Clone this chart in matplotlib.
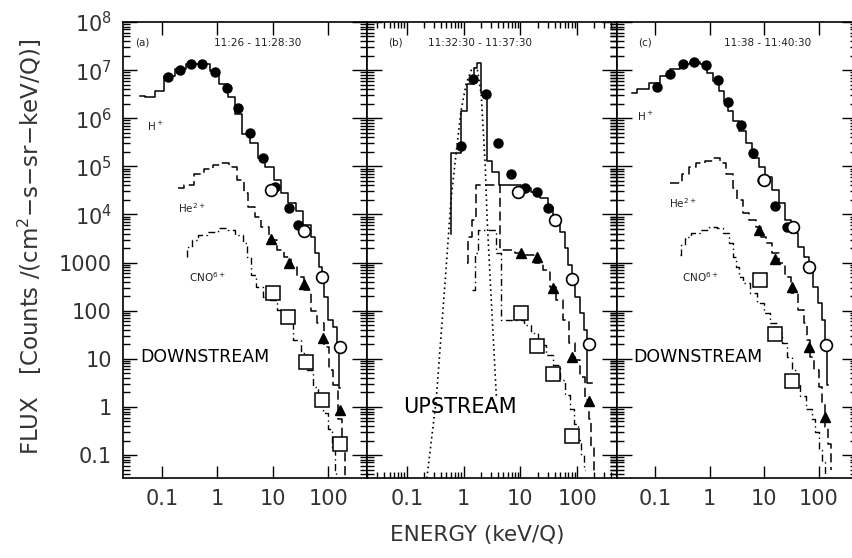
import numpy as np
import matplotlib
matplotlib.use("Agg")
import matplotlib.pyplot as plt
from matplotlib.ticker import LogLocator, NullFormatter

# ---------------- data ----------------
# panel (a) 11:26-11:28:30, downstream
a_H_E = [0.040, 0.060, 0.088, 0.133, 0.21, 0.34, 0.59, 0.88, 1.28, 1.78, 2.37, 3.3, 4.6, 6.1,
         8.5, 12.3, 15.7, 22.6, 29, 42, 54, 63, 72, 81, 90, 108, 134, 150, 164]
a_H_F = [2.9e6, 2.7e6, 3.7e6, 7.6e6, 1.06e7, 1.35e7, 1.35e7, 9.7e6, 5.2e6, 2.7e6, 1.2e6, 4.8e5,
         3.0e5, 1.5e5, 9.5e4, 5.1e4, 2.8e4, 1.7e4, 1.2e4, 6.0e3, 3.4e3, 1.6e3, 810, 440, 195, 65,
         46, 21, 2.5]
a_He_E = [0.20, 0.30, 0.46, 0.69, 0.96, 1.33, 1.93, 2.68, 3.3, 4.0, 5.4, 6.9, 10.4, 13.9, 18.5,
          23.6, 31, 42, 54, 72, 96, 114, 134, 164, 186, 210]
a_He_F = [3.6e4, 4.0e4, 7.0e4, 9.0e4, 1.05e5, 1.2e5, 9.5e4, 5.1e4, 2.8e4, 1.4e4, 8.8e3, 5.4e3,
          2.9e3, 1.8e3, 1.3e3, 810, 500, 270, 100, 56, 18, 5.9, 2.9, 0.55, 0.13, 0.03]
a_CNO_E = [0.28, 0.30, 0.39, 0.52, 0.78, 1.28, 1.78, 2.47, 3.3, 3.7, 4.4, 5.6, 7.5, 10.4, 13.9,
           19.3, 28, 36, 48, 58, 72, 88, 108, 124, 137, 145]
a_CNO_F = [1.3e3, 2.1e3, 2.9e3, 3.7e3, 4.3e3, 5.2e3, 4.7e3, 3.7e3, 2.5e3, 1.3e3, 550, 310, 190,
           170, 105, 56, 25, 13.5, 5.9, 2.6, 1.4, 0.76, 0.34, 0.15, 0.05, 0.03]
a_fill_E = [0.128, 0.21, 0.34, 0.54, 0.92, 1.51, 2.37, 3.9, 6.6, 10.9, 19.3, 29]
a_fill_F = [7.3e6, 1.0e7, 1.35e7, 1.35e7, 9.2e6, 4.3e6, 1.6e6, 5.0e5, 1.5e5, 3.8e4, 1.35e4, 6.0e3]
a_open_E = [9.2, 37, 78, 164]
a_open_F = [3.2e4, 4.5e3, 500, 18]
a_tri_E = [9.2, 19.3, 37, 81, 164]
a_tri_F = [3.1e3, 980, 360, 27, 0.85]
a_sq_E = [10, 18.5, 39, 78, 164]
a_sq_F = [230, 74, 8.7, 1.4, 0.17]

# panel (b) 11:32:30-11:37:30, upstream
b_H_E = [0.60, 0.60, 0.90, 1.15, 1.53, 1.73, 2.04, 2.61, 3.19, 4.2, 10.4, 15.6, 22.5, 30, 37, 49,
         60, 68, 80, 93, 110, 130, 150, 178]
b_H_F = [4e3, 1.9e5, 1.4e6, 5.2e6, 1.1e7, 1.4e7, 3.3e6, 1.3e5, 7.6e4, 4e4, 3.6e4, 2.9e4, 2.2e4,
         1.4e4, 7.6e3, 4.3e3, 2.0e3, 900, 370, 190, 90, 40, 3.2, 3.2]
b_beam_E = [0.226, 0.33, 0.49, 0.60, 0.74, 0.90, 1.11, 1.41, 1.73, 2.04, 2.22, 2.4, 2.6, 3.07, 3.77]
b_beam_F = [0.033, 1.4, 690, 2e4, 1.9e5, 1.4e6, 5.2e6, 1.1e7, 1.1e7, 3.2e6, 5.5e5, 1.05e5, 7.6e3,
            166, 1.66]
b_He_E = [1.15, 1.25, 1.53, 1.8, 4.1, 4.8, 6.3, 9.6, 14.5, 21.5, 29, 37, 49, 65, 80, 102, 125,
          150, 170, 185, 212]
b_He_F = [980, 3.4e3, 7.6e3, 4e4, 4e4, 1.8e3, 1.8e3, 1.6e3, 1.45e3, 1.0e3, 690, 310, 166, 65, 21,
          9.5, 4.1, 1.4, 0.55, 0.15, 0.05]
b_CNO_E = [1.41, 1.73, 1.87, 3.2, 4.2, 4.8, 6.3, 9.6, 13.3, 17.7, 23.6, 32, 43, 56, 68, 80, 98,
           110, 124, 135]
b_CNO_F = [270, 1.6e3, 4.7e3, 4.7e3, 1.6e3, 65, 65, 65, 51, 35, 19.5, 12, 7.6, 3.7, 1.8, 0.9,
           0.44, 0.21, 0.10, 0.05]
b_fill_E = [0.90, 1.47, 2.5, 4.1, 6.9, 11.8, 19.2, 30]
b_fill_F = [2.6e5, 6.6e6, 3.2e6, 3.1e5, 6.8e4, 3.5e4, 2.9e4, 1.35e4]
b_open_E = [9.2, 40, 80, 159]
b_open_F = [2.9e4, 7.6e3, 460, 20]
b_tri_E = [10.4, 19.2, 38, 80, 159]
b_tri_F = [1.6e3, 1.3e3, 295, 11, 1.3]
b_sq_E = [10.4, 19.2, 38, 80]
b_sq_F = [90, 18.6, 4.9, 0.25]

# panel (c) 11:38-11:40:30, downstream
c_H_E = [0.037, 0.056, 0.1, 0.15, 0.23, 0.34, 0.52, 0.78, 1.0, 1.33, 1.64, 2.0, 2.27, 3.0, 4.0,
         5.2, 6.9, 9.2, 11.8, 15.7, 20.9, 26.6, 35.5, 47, 61, 72, 81, 108, 124, 138, 145]
c_H_F = [3.4e6, 4.1e6, 5.5e6, 7.6e6, 1.06e7, 1.35e7, 1.5e7, 1.35e7, 8.7e6, 6.0e6, 3.7e6, 2.3e6,
         1.43e6, 8.9e5, 5.5e5, 3.0e5, 1.5e5, 9.5e4, 5.9e4, 3.2e4, 1.7e4, 7.6e3, 4.1e3, 2.1e3,
         1.3e3, 810, 310, 145, 65, 19.5, 2.9]
c_He_E = [0.185, 0.26, 0.36, 0.48, 0.66, 1.0, 1.33, 1.77, 2.27, 3.0, 3.4, 4.6, 6.1, 7.8, 9.6,
          11.8, 15.7, 20.9, 26.6, 35.5, 47, 58, 63, 72, 92, 108, 124, 138, 159, 170]
c_He_F = [4.4e4, 4.6e4, 7.0e4, 9.5e4, 1.15e5, 1.3e5, 1.5e5, 1.15e5, 7.0e4, 3.6e4, 2.0e4, 1.05e4,
          7.5e3, 5.4e3, 3.4e3, 2.5e3, 1.6e3, 980, 500, 230, 105, 56, 25, 11, 5.9, 2.6, 1.2, 0.39,
          0.17, 0.05]
c_CNO_E = [0.28, 0.32, 0.39, 0.52, 0.78, 1.18, 1.5, 2.0, 2.46, 2.8, 3.3, 3.7, 4.6, 6.3, 8.5, 11.3,
           14.5, 19.3, 23.6, 29, 36, 40, 50, 66, 81, 92, 108, 124, 132]
c_CNO_F = [1.45e3, 2.3e3, 3.4e3, 4.1e3, 4.7e3, 5.4e3, 5.2e3, 4.1e3, 2.5e3, 1.3e3, 810, 500, 380,
           235, 145, 90, 56, 35, 21, 11, 5.9, 3.2, 1.65, 0.89, 0.55, 0.30, 0.13, 0.07, 0.03]
c_fill_E = [0.109, 0.19, 0.32, 0.52, 0.85, 1.39, 2.18, 3.7, 6.1, 9.2, 15.7, 25.7]
c_fill_F = [4.5e6, 8.3e6, 1.35e7, 1.5e7, 1.3e7, 6.3e6, 2.2e6, 7.1e5, 1.9e5, 5.1e4, 1.5e4, 5.4e3]
c_open_E = [10, 33, 66, 138]
c_open_F = [5.1e4, 5.4e3, 810, 19.5]
c_tri_E = [8.1, 15.7, 31.6, 66, 132]
c_tri_F = [4.7e3, 1.2e3, 310, 18, 0.63]
c_sq_E = [8.5, 15.7, 31.6]
c_sq_F = [440, 32, 3.4]

x_ticks = [0.1, 1, 10, 100]
x_tick_labels = ['0.1', '1', '10', '100']
y_ticks = [1e8, 1e7, 1e6, 1e5, 1e4, 1e3, 1e2, 1e1, 1, 0.1]
y_tick_labels = ['10$^8$', '10$^7$', '10$^6$', '10$^5$', '10$^4$', '1000', '100', '10', '1', '0.1']

TXT = '#333333'


def markers(ax, fE, fF, oE, oF, tE, tF, sE, sF):
    """scatter symbols on top of the step spectra"""
    ax.plot(fE, fF, 'o', color='k', ms=6.5, zorder=5)
    ax.plot(oE, oF, 'o', mfc='white', mec='k', mew=1.2, ms=8.5, zorder=6)
    ax.plot(tE, tF, '^', color='k', ms=7.5, zorder=5)
    ax.plot(sE, sF, 's', mfc='white', mec='k', mew=1.1, ms=9.5, zorder=6)


def setup_axis(ax, left_labels=False, inout=False):
    ax.set_xscale('log')
    ax.set_yscale('log')
    ax.set_xlim(0.02, 500)
    ax.set_ylim(0.0333, 1e8)
    ax.set_xticks(x_ticks)
    ax.set_xticklabels(x_tick_labels)
    ax.xaxis.set_minor_locator(LogLocator(base=10, subs=np.arange(2, 10)))
    ax.xaxis.set_minor_formatter(NullFormatter())
    ax.set_yticks(y_ticks)
    ax.yaxis.set_minor_locator(LogLocator(base=10, subs=np.arange(2, 10), numticks=20))
    ax.yaxis.set_minor_formatter(NullFormatter())
    if left_labels:
        ax.set_yticklabels(y_tick_labels)
    else:
        ax.set_yticklabels([])
    ax.tick_params(axis='x', which='both', direction='in', top=True, bottom=True,
                   labelsize=15, labelcolor=TXT, pad=8, width=1)
    ax.tick_params(axis='x', which='major', length=9)
    ax.tick_params(axis='x', which='minor', length=4)
    if inout:
        ax.tick_params(axis='y', which='both', direction='inout', left=True, right=True, width=1)
        ax.tick_params(axis='y', which='major', length=22)
        ax.tick_params(axis='y', which='minor', length=10)
    else:
        ax.tick_params(axis='y', which='both', direction='in', left=True, right=False, width=1)
        ax.tick_params(axis='y', which='major', length=10)
        ax.tick_params(axis='y', which='minor', length=5)
    ax.tick_params(axis='y', labelsize=15, labelcolor=TXT, pad=8)
    for s in ax.spines.values():
        s.set_linewidth(1.2)


def main():
    fig = plt.figure(figsize=(8.52, 5.58), dpi=100)
    ax_a = fig.add_axes([123 / 852, 80 / 558, 244 / 852, 456 / 558])
    ax_b = fig.add_axes([367 / 852, 80 / 558, 250 / 852, 456 / 558])
    ax_c = fig.add_axes([617 / 852, 80 / 558, 240 / 852, 456 / 558])

    dash = (0, (6, 3))
    dashdot = (0, (5, 2.5, 1, 2.5))

    # (a)
    ax_a.plot(a_H_E, a_H_F, color='k', lw=1.1, drawstyle='steps-mid')
    ax_a.plot(a_He_E, a_He_F, color='k', lw=1.1, ls=dash, drawstyle='steps-mid')
    ax_a.plot(a_CNO_E, a_CNO_F, color='k', lw=1.0, ls=dashdot, drawstyle='steps-mid')
    markers(ax_a, a_fill_E, a_fill_F, a_open_E, a_open_F, a_tri_E, a_tri_F, a_sq_E, a_sq_F)

    # (b)
    ax_b.plot(b_beam_E, b_beam_F, color='k', lw=1.2, ls=(0, (1, 2)))
    ax_b.plot(b_H_E, b_H_F, color='k', lw=1.1, drawstyle='steps-post')
    ax_b.plot(b_He_E, b_He_F, color='k', lw=1.1, ls=dash, drawstyle='steps-mid')
    ax_b.plot(b_CNO_E, b_CNO_F, color='k', lw=1.0, ls=dashdot, drawstyle='steps-mid')
    markers(ax_b, b_fill_E, b_fill_F, b_open_E, b_open_F, b_tri_E, b_tri_F, b_sq_E, b_sq_F)

    # (c)
    ax_c.plot(c_H_E, c_H_F, color='k', lw=1.1, drawstyle='steps-mid')
    ax_c.plot(c_He_E, c_He_F, color='k', lw=1.1, ls=dash, drawstyle='steps-mid')
    ax_c.plot(c_CNO_E, c_CNO_F, color='k', lw=1.0, ls=dashdot, drawstyle='steps-mid')
    markers(ax_c, c_fill_E, c_fill_F, c_open_E, c_open_F, c_tri_E, c_tri_F, c_sq_E, c_sq_F)

    setup_axis(ax_a, left_labels=True)
    setup_axis(ax_b, inout=True)
    setup_axis(ax_c, inout=True)
    ax_b.tick_params(axis='y', right=False)

    # annotations
    small = dict(fontsize=7.5, color='#222222', ha='center', va='center')
    ax_a.text(0.078, 0.954, '(a)', transform=ax_a.transAxes, **small)
    ax_a.text(0.553, 0.954, '11:26 - 11:28:30', transform=ax_a.transAxes, **small)
    ax_b.text(0.112, 0.954, '(b)', transform=ax_b.transAxes, **small)
    ax_b.text(0.452, 0.954, '11:32:30 - 11:37:30', transform=ax_b.transAxes, **small)
    ax_c.text(0.117, 0.954, '(c)', transform=ax_c.transAxes, **small)
    ax_c.text(0.629, 0.954, '11:38 - 11:40:30', transform=ax_c.transAxes, **small)

    for ax, pos in [(ax_a, [(0.131, 0.770), (0.283, 0.592), (0.344, 0.441)]),
                    (ax_c, [(0.117, 0.792), (0.275, 0.603), (0.346, 0.441)])]:
        for lab, (fx, fy) in zip(['H$^+$', 'He$^{2+}$', 'CNO$^{6+}$'], pos):
            ax.text(fx, fy, lab, transform=ax.transAxes, **small)
        ax.text(fx - 0.008, 0.265, 'DOWNSTREAM', transform=ax.transAxes, fontsize=12.5,
                ha='center', va='center', color='k')
    ax_b.text(0.372, 0.156, 'UPSTREAM', transform=ax_b.transAxes, fontsize=15,
              ha='center', va='center', color='k')

    fig.text(477 / 852, 1 - 535 / 558, 'ENERGY (keV/Q)', fontsize=15.5, color=TXT,
             ha='center', va='center')
    fig.text(30 / 852, 1 - 247 / 558, 'FLUX   [Counts /(cm$^2$\u2212s\u2212sr\u2212keV/Q)]',
             fontsize=16.5, color=TXT, ha='center', va='center', rotation=90)

    fig.savefig('out.png', dpi=100)


if __name__ == "__main__":
    main()
